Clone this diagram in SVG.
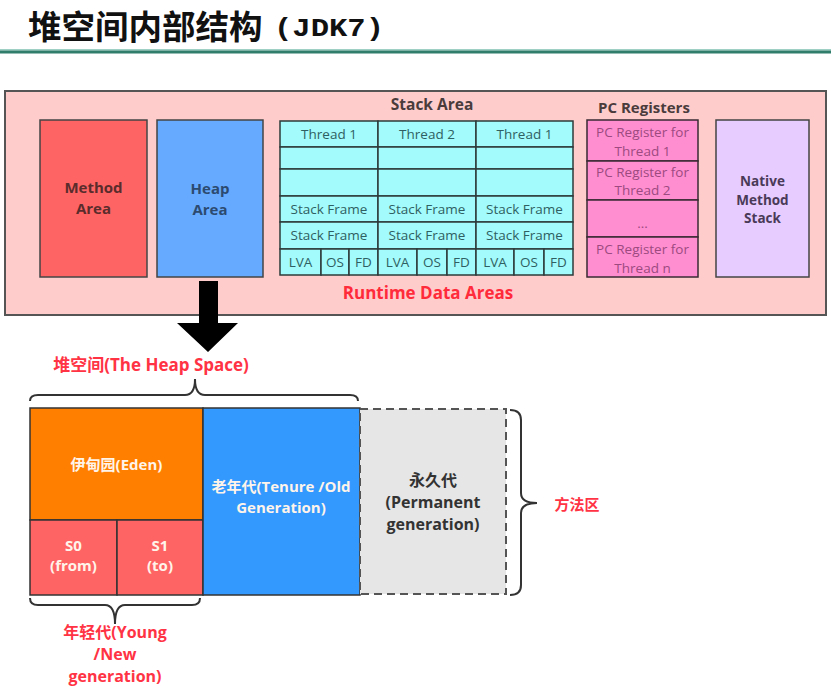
<svg xmlns="http://www.w3.org/2000/svg" width="831" height="695" viewBox="0 0 831 695">
<style>
text{font-family:"Open Sans","Noto Sans","Noto Sans CJK SC",sans-serif;text-anchor:middle}
.b{font-weight:bold}
.cell{fill:#a3fbfb;stroke:#2e3a3a;stroke-width:1.5}
.ct{font-size:13.5px;fill:#2f5f62}
.pc{fill:#ff8ed0;stroke:#3a2a33;stroke-width:1.5}
.pt{font-size:13.5px;fill:#9c4a80}
.red{fill:#ff3344;font-weight:bold}
.wt{fill:#fff4ea;font-weight:bold;font-size:15px}
.brace{fill:none;stroke:#333;stroke-width:2}
</style>
<rect width="831" height="695" fill="#ffffff"/>
<g id="title">
<text x="28" y="39" style="text-anchor:start;font-family:'Noto Sans CJK SC',sans-serif;font-weight:bold;font-size:33.5px" fill="#111">堆空间内部结构</text>
<text x="274" y="36" style="text-anchor:start;font-family:'Liberation Mono',monospace;font-weight:bold;font-size:26px" fill="#111" textLength="110" lengthAdjust="spacingAndGlyphs">(JDK7)</text>
<rect x="0" y="49" width="831" height="1.5" fill="#9fd0c4"/>
<rect x="0" y="50.5" width="831" height="3" fill="#2f7d6a"/>
</g>
<g id="runtime">
<rect x="5" y="91" width="821" height="224" fill="#ffcccc" stroke="#555" stroke-width="2"/>
<text x="428" y="299" class="b" font-size="17" fill="#ff2a3a">Runtime Data Areas</text>
</g>
<g id="method-area">
<rect x="40" y="120" width="107" height="157" fill="#ff6464" stroke="#444" stroke-width="1.5"/>
<text x="93.5" y="193" class="b" font-size="15" fill="#5a2c2c">Method</text>
<text x="93.5" y="213.5" class="b" font-size="15" fill="#5a2c2c">Area</text>
</g>
<g id="heap-area">
<rect x="157" y="120" width="106" height="157" fill="#66aaff" stroke="#444" stroke-width="1.5"/>
<text x="210" y="194" class="b" font-size="15" fill="#2c4a70">Heap</text>
<text x="210" y="214.5" class="b" font-size="15" fill="#2c4a70">Area</text>
</g>
<g id="stack-area">
<text x="432" y="110" class="b" font-size="15.5" fill="#4a3c3c">Stack Area</text>
<rect class="cell" x="280" y="121" width="98" height="26"/>
<rect class="cell" x="378" y="121" width="98" height="26"/>
<rect class="cell" x="476" y="121" width="97" height="26"/>
<rect class="cell" x="280" y="147" width="98" height="22"/>
<rect class="cell" x="378" y="147" width="98" height="22"/>
<rect class="cell" x="476" y="147" width="97" height="22"/>
<rect class="cell" x="280" y="169" width="98" height="27"/>
<rect class="cell" x="378" y="169" width="98" height="27"/>
<rect class="cell" x="476" y="169" width="97" height="27"/>
<rect class="cell" x="280" y="196" width="98" height="26"/>
<rect class="cell" x="378" y="196" width="98" height="26"/>
<rect class="cell" x="476" y="196" width="97" height="26"/>
<rect class="cell" x="280" y="222" width="98" height="27"/>
<rect class="cell" x="378" y="222" width="98" height="27"/>
<rect class="cell" x="476" y="222" width="97" height="27"/>
<rect class="cell" x="280" y="249" width="41" height="26"/>
<rect class="cell" x="321" y="249" width="28" height="26"/>
<rect class="cell" x="349" y="249" width="29" height="26"/>
<rect class="cell" x="378" y="249" width="39" height="26"/>
<rect class="cell" x="417" y="249" width="30" height="26"/>
<rect class="cell" x="447" y="249" width="29" height="26"/>
<rect class="cell" x="476" y="249" width="38" height="26"/>
<rect class="cell" x="514" y="249" width="30" height="26"/>
<rect class="cell" x="544" y="249" width="29" height="26"/>
<text class="ct" x="329" y="139">Thread 1</text>
<text class="ct" x="427" y="139">Thread 2</text>
<text class="ct" x="524.5" y="139">Thread 1</text>
<text class="ct" x="329" y="214">Stack Frame</text>
<text class="ct" x="427" y="214">Stack Frame</text>
<text class="ct" x="524.5" y="214">Stack Frame</text>
<text class="ct" x="329" y="240">Stack Frame</text>
<text class="ct" x="427" y="240">Stack Frame</text>
<text class="ct" x="524.5" y="240">Stack Frame</text>
<text class="ct" x="300.5" y="267" font-size="12.5">LVA</text>
<text class="ct" x="335" y="267" font-size="12.5">OS</text>
<text class="ct" x="363.5" y="267" font-size="12.5">FD</text>
<text class="ct" x="397.5" y="267" font-size="12.5">LVA</text>
<text class="ct" x="432" y="267" font-size="12.5">OS</text>
<text class="ct" x="461.5" y="267" font-size="12.5">FD</text>
<text class="ct" x="495" y="267" font-size="12.5">LVA</text>
<text class="ct" x="529" y="267" font-size="12.5">OS</text>
<text class="ct" x="558.5" y="267" font-size="12.5">FD</text>
</g>
<g id="pc-registers">
<text x="644" y="113" class="b" font-size="15" fill="#4a3c3c">PC Registers</text>
<rect class="pc" x="587" y="120" width="111" height="41"/>
<rect class="pc" x="587" y="161" width="111" height="39"/>
<rect class="pc" x="587" y="200" width="111" height="37"/>
<rect class="pc" x="587" y="237" width="111" height="40"/>
<text class="pt" x="642.5" y="137">PC Register for</text>
<text class="pt" x="642.5" y="155.5">Thread 1</text>
<text class="pt" x="642.5" y="176.5">PC Register for</text>
<text class="pt" x="642.5" y="195">Thread 2</text>
<text class="pt" x="642.5" y="228" font-size="11">...</text>
<text class="pt" x="642.5" y="254">PC Register for</text>
<text class="pt" x="642.5" y="272.5">Thread n</text>
</g>
<g id="native-method-stack">
<rect x="716" y="120" width="93" height="157" fill="#e6ccff" stroke="#444" stroke-width="1.5"/>
<text x="762.5" y="186" class="b" font-size="13.5" fill="#4a3a58">Native</text>
<text x="762.5" y="204.5" class="b" font-size="13.5" fill="#4a3a58">Method</text>
<text x="762.5" y="223" class="b" font-size="13.5" fill="#4a3a58">Stack</text>
</g>
<g id="connectors">
<polygon points="199,281 218,281 218,323 238,323 208,352 177,323 199,323" fill="#000"/>
<path class="brace" d="M30,401 Q30,395 38,395 L185,395 Q195,395 195,379 Q195,395 205,395 L350,395 Q358,395 358,401"/>
<path class="brace" d="M30,598 Q30,605 38,605 L105,605 Q115,605 115,624 Q115,605 125,605 L192,605 Q200,605 200,598"/>
<path class="brace" d="M510,410 Q521,410 521,420 L521,493 Q521,503 537,503 Q521,503 521,513 L521,585 Q521,595 510,595"/>
</g>
<g id="heap-space-label">
<text x="151" y="371" class="red" font-size="17">堆空间(The Heap Space)</text>
</g>
<g id="eden">
<rect x="30" y="408" width="173" height="112" fill="#ff8000" stroke="#333" stroke-width="1.5"/>
<text x="116.5" y="470" class="wt" font-size="15.5">伊甸园(Eden)</text>
</g>
<g id="s0">
<rect x="30" y="520" width="87" height="75" fill="#ff6464" stroke="#333" stroke-width="1.5"/>
<text x="73.5" y="550.5" class="wt">S0</text>
<text x="73.5" y="571" class="wt">(from)</text>
</g>
<g id="s1">
<rect x="117" y="520" width="86" height="75" fill="#ff6464" stroke="#333" stroke-width="1.5"/>
<text x="160" y="550.5" class="wt">S1</text>
<text x="160" y="571" class="wt">(to)</text>
</g>
<g id="old-gen">
<rect x="203" y="408" width="157" height="187" fill="#3399ff" stroke="#333" stroke-width="1.5"/>
<text x="281" y="492" class="wt" fill="#eaf4ff">老年代(Tenure /Old</text>
<text x="281" y="512.5" class="wt">Generation)</text>
</g>
<g id="perm-gen">
<rect x="360" y="409" width="146" height="185" fill="#e6e6e6" stroke="#555" stroke-width="2" stroke-dasharray="8,5"/>
<text x="433" y="486" class="b" font-size="16" fill="#333">永久代</text>
<text x="433" y="508" class="b" font-size="16" fill="#333">(Permanent</text>
<text x="433" y="530" class="b" font-size="16" fill="#333">generation)</text>
</g>
<g id="method-area-label">
<text x="577" y="510" class="red" font-size="15">方法区</text>
</g>
<g id="young-gen-label">
<text x="115" y="638" class="red" font-size="16">年轻代(Young</text>
<text x="115" y="660" class="red" font-size="16">/New</text>
<text x="115" y="682" class="red" font-size="16">generation)</text>
</g>
</svg>
